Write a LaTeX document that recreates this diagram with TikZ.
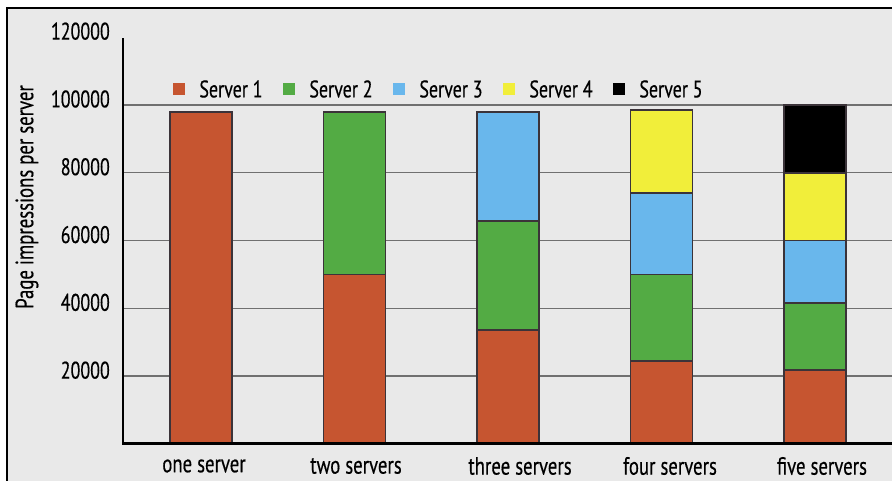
\documentclass[tikz,border=0pt]{standalone}
\usepackage{fontspec}
\setmainfont[FakeStretch=0.75, FakeBold=0.4]{PT Sans}
\usetikzlibrary{positioning}

\definecolor{panel}{HTML}{E9E9E9}
\definecolor{gridgray}{HTML}{707070}
\definecolor{barline}{HTML}{3B3339}
\definecolor{srv1}{HTML}{C65530}
\definecolor{srv2}{HTML}{53AB44}
\definecolor{srv3}{HTML}{69B7EC}
\definecolor{srv4}{HTML}{F1EE3A}
\definecolor{srv5}{HTML}{000000}

\begin{document}
\begin{tikzpicture}[x=1pt, y=1pt,
    bar/.style={draw=barline, line width=1.5pt},
    gridline/.style={gridgray, line width=1.4pt},
    ticklabel/.style={anchor=east, inner sep=0pt, font=\fontsize{24}{24}\selectfont},
    catlabel/.style={inner sep=0pt, font=\fontsize{25}{25}\selectfont},
    legbox/.style={minimum size=12pt, inner sep=0pt},
    legtext/.style={inner sep=0pt, font=\fontsize{24}{24}\selectfont}
]
    % page and panel
    \useasboundingbox (0,0) rectangle (892,481);
    \fill[white] (0,0) rectangle (892,481);
    \fill[panel] (7,0) rectangle (892,473);
    \draw[line width=2pt] (7,0) -- (7,473) -- (892,473);

    % grid and tick labels (value k in thousands -> 37+3.39k)
    \foreach \k in {20,40,60,80,100} {
        \draw[gridline] (123,37+3.39*\k) -- (892,37+3.39*\k);
        \node[ticklabel] (t\k) at (110,43+3.39*\k) {\k000};
    }
    \node[ticklabel] (t120) at (110,43+3.39*120) {120000};

    % stacked bars, cumulative tops per bar
    \foreach \list [count=\i] in {{98},{50,98},{33.6,65.8,98},{24.5,50,74.1,98.5},{21.8,41.6,60,80,100}} {
        \foreach \v [count=\j, remember=\v as \prev (initially 0)] in \list {
            \draw[bar, fill=srv\j] (170+153.5*\i-153.5,37+3.39*\prev) rectangle (232+153.5*\i-153.5,37+3.39*\v);
        }
    }

    % axes
    \draw[line width=2pt] (123,37) -- (123,443);
    \draw[line width=3pt] (122,37) -- (892,37);

    % category labels
    \foreach \x/\name [count=\i] in {204/one server,356/two servers,520/three servers,670/four servers,822/five servers}
        \node[catlabel] (c\i) at (\x,15) {\name};

    \node[rotate=90, inner sep=0pt, font=\fontsize{25}{25}\selectfont] (ylab) at (27,284) {Page impressions per server};

    % legend
    \foreach \i in {1,...,5} {
        \node[legbox, fill=srv\i] (k\i) at (179+110*\i-110,392) {};
        \node[legtext, right=14pt of k\i] (s\i) {Server \i};
    }
\end{tikzpicture}
\end{document}
